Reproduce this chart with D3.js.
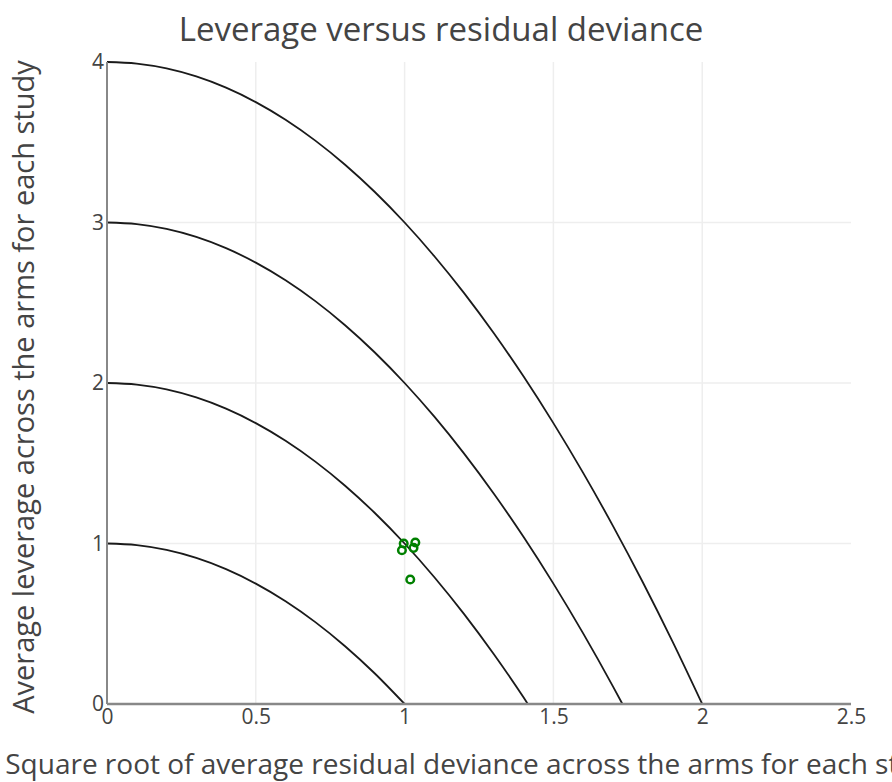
<!DOCTYPE html>
<html>
<head>
<meta charset="utf-8">
<script src="https://cdn.jsdelivr.net/npm/d3@7"></script>
<style>
  body { margin: 0; background: #fff; overflow: hidden; }
  text { font-family: "Open Sans", "Noto Sans", sans-serif; fill: #444; }
</style>
</head>
<body>
<div id="main"></div>
<script>
// contour curves (leverage + deviance = level)
var curve1x = [0, 0.1, 0.2, 0.3, 0.4, 0.5, 0.6, 0.7, 0.8, 0.9, 1];
var curve1y = [1, 0.99, 0.96, 0.91, 0.84, 0.75, 0.64, 0.51, 0.36, 0.19, 0];
var curve2x = [0, 0.1, 0.2, 0.3, 0.4, 0.5, 0.6, 0.7, 0.8, 0.9, 1, 1.1, 1.2, 1.3, 1.4, 1.414];
var curve2y = [2, 1.99, 1.96, 1.91, 1.84, 1.75, 1.64, 1.51, 1.36, 1.19, 1, 0.79, 0.56, 0.31, 0.04, 0];
var curve3x = [0, 0.1, 0.2, 0.3, 0.4, 0.5, 0.6, 0.7, 0.8, 0.9, 1, 1.1, 1.2, 1.3, 1.4, 1.5, 1.6, 1.7, 1.732];
var curve3y = [3, 2.99, 2.96, 2.91, 2.84, 2.75, 2.64, 2.51, 2.36, 2.19, 2, 1.79, 1.56, 1.31, 1.04, 0.75, 0.44, 0.11, 0];
var curve4x = [0, 0.1, 0.2, 0.3, 0.4, 0.5, 0.6, 0.7, 0.8, 0.9, 1, 1.1, 1.2, 1.3, 1.4, 1.5, 1.6, 1.7, 1.8, 1.9, 2];
var curve4y = [4, 3.99, 3.96, 3.91, 3.84, 3.75, 3.64, 3.51, 3.36, 3.19, 3, 2.79, 2.56, 2.31, 2.04, 1.75, 1.44, 1.11, 0.76, 0.39, 0];

// studies
var studyX = [0.997, 1.036, 0.991, 1.030, 1.019];
var studyY = [1.0, 1.006, 0.958, 0.973, 0.776];

var xTicks = [0, 0.5, 1, 1.5, 2, 2.5];
var yTicks = [0, 1, 2, 3, 4];

var title = "Leverage versus residual deviance";
var xTitle = "Square root of average residual deviance across the arms for each study";
var yTitle = "Average leverage across the arms for each study";

var W = 892, H = 782;
var margin = {top: 62, right: 41, bottom: 78, left: 107};
var width = W - margin.left - margin.right,
    height = H - margin.top - margin.bottom;

var translate = function(x, y) { return "translate(" + x + "," + y + ")"; };

var x = d3.scaleLinear().domain([0, 2.5]).range([0, width]);
var y = d3.scaleLinear().domain([0, 4]).range([height, 0]);

var svg = d3.select("#main").append("svg")
    .attr("width", W)
    .attr("height", H);

var g = svg.append("g").attr("transform", translate(margin.left, margin.top));

// grid
g.selectAll(".vgrid")
  .data(xTicks.filter(function(d){ return d > 0 && d < 2.5; }))
  .enter().append("line")
    .attr("x1", function(d){ return x(d); })
    .attr("x2", function(d){ return x(d); })
    .attr("y1", 0).attr("y2", height)
    .attr("stroke", "#eeeeee").attr("stroke-width", 1.5);

g.selectAll(".hgrid")
  .data(yTicks.filter(function(d){ return d > 0 && d < 4; }))
  .enter().append("line")
    .attr("x1", 0).attr("x2", width)
    .attr("y1", function(d){ return y(d); })
    .attr("y2", function(d){ return y(d); })
    .attr("stroke", "#eeeeee").attr("stroke-width", 1.5);

// curves
var curves = [
  d3.zip(curve1x, curve1y),
  d3.zip(curve2x, curve2y),
  d3.zip(curve3x, curve3y),
  d3.zip(curve4x, curve4y)
];

var line = d3.line()
    .x(function(d){ return x(d[0]); })
    .y(function(d){ return y(d[1]); })
    .curve(d3.curveMonotoneX);

g.selectAll(".curve")
  .data(curves)
  .enter().append("path")
    .attr("d", line)
    .attr("fill", "none")
    .attr("stroke", "#1a1a1a")
    .attr("stroke-width", 1.8);

// axis lines
g.append("line")
    .attr("x1", 0).attr("x2", width)
    .attr("y1", height).attr("y2", height)
    .attr("stroke", "#888").attr("stroke-width", 2.5);
g.append("line")
    .attr("x1", 0).attr("x2", 0)
    .attr("y1", 0).attr("y2", height)
    .attr("stroke", "#888").attr("stroke-width", 2);

// points
g.selectAll(".pt")
  .data(d3.zip(studyX, studyY))
  .enter().append("circle")
    .attr("cx", function(d){ return x(d[0]); })
    .attr("cy", function(d){ return y(d[1]); })
    .attr("r", 3.8)
    .attr("fill", "none")
    .attr("stroke", "#008000")
    .attr("stroke-width", 2.5);

// axes
var xAxis = d3.axisBottom(x).tickValues(xTicks).tickSize(0).tickPadding(4)
    .tickFormat(function(d){ return d; });
var yAxis = d3.axisLeft(y).tickValues(yTicks).tickSize(0).tickPadding(3)
    .tickFormat(function(d){ return d; });

var xa = g.append("g").attr("transform", translate(0, height)).call(xAxis);
var ya = g.append("g").call(yAxis);
[xa, ya].forEach(function(a){
  a.select(".domain").remove();
  a.selectAll("text").style("font-size", "21px").attr("fill", "#555");
});
xa.selectAll("text").attr("dy", "0.75em");

// titles
svg.append("text")
    .attr("x", 441).attr("y", 41)
    .attr("text-anchor", "middle")
    .style("font-size", "33px")
    .attr("fill", "#555")
    .text(title);

svg.append("text")
    .attr("x", margin.left + width / 2 - 3).attr("y", 774)
    .attr("text-anchor", "middle")
    .style("font-size", "28px")
    .attr("fill", "#555")
    .text(xTitle);

svg.append("text")
    .attr("transform", translate(34, margin.top + height / 2 + 4) + " rotate(-90)")
    .attr("text-anchor", "middle")
    .style("font-size", "29px")
    .attr("fill", "#555")
    .text(yTitle);
</script>
</body>
</html>
